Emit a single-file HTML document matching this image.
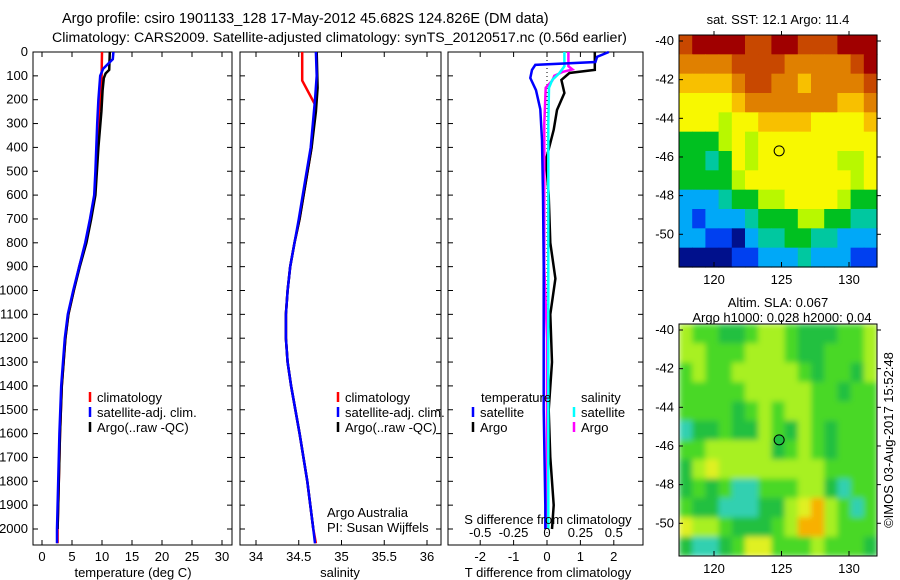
<!DOCTYPE html>
<html><head><meta charset="utf-8">
<style>
html,body{margin:0;padding:0;background:#fff;}
svg{display:block;font-family:"Liberation Sans",sans-serif;}
</style></head>
<body>
<svg id="chart" width="900" height="580" viewBox="0 0 900 580" xmlns="http://www.w3.org/2000/svg">
<defs>
<filter id="blur" x="0" y="0" width="1" height="1"><feGaussianBlur stdDeviation="3" edgeMode="duplicate"/></filter>
<clipPath id="clipSla"><rect x="679" y="324" width="198" height="232"/></clipPath>
</defs>
<text x="62" y="23" font-size="14.5">Argo profile: csiro 1901133_128 17-May-2012 45.682S 124.826E (DM data)</text>
<text x="52" y="42" font-size="14.2">Climatology: CARS2009. Satellite-adjusted climatology: synTS_20120517.nc (0.56d earlier)</text>
<g id="plots"></g>
</svg>
<script>
// ---------- DATA ----------
const depthTicks = [0,100,200,300,400,500,600,700,800,900,1000,1100,1200,1300,1400,1500,1600,1700,1800,1900,2000];
const tempTicks = [0,5,10,15,20,25,30];
const salTicks = [34,34.5,35,35.5,36];
const tdiffTicks = [-2,-1,0,1,2];
const sdiffTicks = [-0.5,-0.25,0,0.25,0.5];

const tClimDepth = [0,150,300,500,600,700,800,900,1000,1100,1200,1400,1600,1800,2000,2060];
const tClimVal   = [10.0,9.9,9.4,9.1,8.8,8.1,7.3,6.2,5.3,4.4,3.9,3.3,3.0,2.8,2.6,2.6];
const tSatDepth = [0,30,70,100,200,300,500,600,700,800,900,1000,1100,1200,1400,1600,1800,2000,2060];
const tSatVal   = [11.9,11.8,10.2,9.7,9.4,9.2,8.9,8.7,8.0,7.2,6.2,5.2,4.3,3.8,3.2,2.9,2.7,2.5,2.5];
const tArgoDepth = [0,75,90,110,160,250,400,600,700,800,900,1000,1100,1200,1400,1600,1800,2000];
const tArgoVal   = [11.3,11.2,10.6,10.3,10.1,9.9,9.4,8.9,8.2,7.4,6.3,5.3,4.4,3.9,3.3,3.0,2.8,2.6];

const sClimDepth = [0,120,220,400,550,700,800,900,1000,1100,1200,1300,1400,1600,1800,2000,2060];
const sClimVal   = [34.54,34.54,34.69,34.65,34.58,34.51,34.45,34.40,34.37,34.35,34.35,34.37,34.41,34.51,34.60,34.67,34.70];
const sSatDepth = [0,100,200,400,550,700,800,900,1000,1100,1200,1300,1400,1600,1800,2000,2060];
const sSatVal   = [34.70,34.71,34.69,34.64,34.57,34.50,34.45,34.40,34.37,34.35,34.35,34.37,34.41,34.51,34.60,34.67,34.69];
const sArgoDepth = [0,150,250,400,550,700,800,900,1000,1100,1200,1300,1400,1600,1800,2000];
const sArgoVal   = [34.71,34.72,34.70,34.65,34.58,34.51,34.45,34.40,34.37,34.35,34.35,34.37,34.41,34.51,34.60,34.67];

const dTSatDepth = [0,20,42,54,75,109,160,240,370,600,900,1200,1500,1900,2000];
const dTSatVal   = [1.85,1.5,1.45,-0.35,-0.45,-0.5,-0.33,-0.2,-0.15,-0.12,-0.1,-0.1,-0.1,-0.05,-0.05];
const dTArgoDepth = [0,75,88,117,172,243,326,452,600,800,950,1100,1300,1500,1700,1900,2000];
const dTArgoVal   = [1.43,1.43,0.67,0.43,0.52,0.3,0.2,-0.03,0.05,0.1,0.25,0.1,0.15,0.05,0.1,0.2,0.15];
const dSSatDepth = [0,60,90,117,150,300,600,1000,1500,2000];
const dSSatVal   = [0.13,0.13,0.09,0.04,0.015,0.01,0.01,0.01,0.01,0.01];
const dSArgoDepth = [0,60,73,83,100,120,150,300,600,900,1200,1600,2000];
const dSArgoVal   = [0.16,0.16,0.19,0.12,0.055,0.04,-0.01,-0.02,-0.02,-0.02,0.0,0.0,0.0];

const lonTicks = [120,125,130];
const latTicks = [-40,-42,-44,-46,-48,-50];
const argoLon = 124.826, argoLat = -45.682;
const sstGrid = [
"9aaaa99aa999aaa","88889999888889a","777789988788889","666678888888778",
"666566777766667","444565666666666","443465666666556","444456666666656",
"222344556666544","212223444554433","221102334433222","000011222322211"];
const slaGrid = [
"yGGggGyyGgggGGy","yyGGGyyyGggGGGy","GyGGyyyyyGgGGgy","GGGGGyyyyyGGgGG",
"GGGGgGyGyyGGGGG","cggGggyGgyGgGGG","GGyyyyygGyGgGGG","gyYyyyyyyyyGGGG",
"gGgGccGGGyygcGG","GggcccggyYoyGcG","YyyGgggGyooyGGG","gccgGYYGGGyGGGg"];
const sstColors = ["#00108c","#0040f0","#00a8f8","#00c8a0","#00c020","#b8f800","#f8f800","#f8c000","#e08000","#c84800","#a00000"];
const slaColors = {c:"#30d0b0",g:"#20c040",G:"#48d828",y:"#a8f020",Y:"#e0f020",o:"#f8b000"};

// ---------- DRAW ----------
const NS="http://www.w3.org/2000/svg";
const root=document.getElementById('plots');
function el(tag,attrs,parent){const e=document.createElementNS(NS,tag);for(const k in attrs)e.setAttribute(k,attrs[k]);(parent||root).appendChild(e);return e;}
const TOP=52,BOT=545;
const yD=d=>TOP+d*0.2385;

function frame(x0,x1,name){
  const r=el('rect',{x:x0,y:TOP,width:x1-x0,height:BOT-TOP,fill:'none',stroke:'#000','stroke-width':1});
  
  
  depthTicks.forEach(d=>{
    el('line',{x1:x0,x2:x0+5,y1:yD(d),y2:yD(d),stroke:'#000'});
    el('line',{x1:x1-5,x2:x1,y1:yD(d),y2:yD(d),stroke:'#000'});
  });
}
function line(xs,ds,xf,color,name,w){
  const pts=xs.map((v,i)=>xf(v).toFixed(1)+','+yD(ds[i]).toFixed(1)).join(' ');
  const p=el('polyline',{points:pts,fill:'none',stroke:color,'stroke-width':w||2.5});
  
  
}
function txt(x,y,s,anchor,size,name){
  const t=el('text',{x:x,y:y,'font-size':size||13,'text-anchor':anchor||'start'});
  t.textContent=s;
  
  
  return t;
}
function xticks(x0,x1,ticks,xf,labels,name){
  ticks.forEach((v,i)=>{
    const x=xf(v);
    el('line',{x1:x,x2:x,y1:BOT,y2:BOT-5,stroke:'#000'});
    el('line',{x1:x,x2:x,y1:TOP,y2:TOP+5,stroke:'#000'});
    txt(x,BOT+16,labels?labels[i]:String(v),'middle',13,name);
  });
}
function legendEntry(x,y,color,label,name){
  const l=el('line',{x1:x,x2:x,y1:y-10,y2:y,stroke:color,'stroke-width':2.5});
  
  
  txt(x+7,y,label,'start',13,name);
}

depthTicks.forEach(d=>txt(28,yD(d)+4,String(d),'end',13,'y-tick-label'));

// Panel 1
const xT=v=>42+v*6;
frame(33,232,'temperature-panel');
xticks(33,232,tempTicks,xT,null,'temperature-tick-label');
line(tClimVal,tClimDepth,xT,'#ff0000','temperature-climatology');
line(tArgoVal,tArgoDepth,xT,'#000000','temperature-argo');
line(tSatVal,tSatDepth,xT,'#0000ff','temperature-satellite');
txt(133,577,'temperature (deg C)','middle',13,'temperature-x-axis-title');
legendEntry(90,402,'#ff0000','climatology','legend-climatology');
legendEntry(90,417,'#0000ff','satellite-adj. clim.','legend-satellite');
legendEntry(90,432,'#000000','Argo(..raw -QC)','legend-argo');

// Panel 2
const xS=v=>256+(v-34)*85.5;
frame(240,441,'salinity-panel');
xticks(240,441,salTicks,xS,['34','34.5','35','35.5','36'],'salinity-tick-label');
line(sClimVal,sClimDepth,xS,'#ff0000','salinity-climatology');
line(sArgoVal,sArgoDepth,xS,'#000000','salinity-argo');
line(sSatVal,sSatDepth,xS,'#0000ff','salinity-satellite');
txt(340,577,'salinity','middle',13,'salinity-x-axis-title');
legendEntry(338,402,'#ff0000','climatology','legend-climatology');
legendEntry(338,417,'#0000ff','satellite-adj. clim.','legend-satellite');
legendEntry(338,432,'#000000','Argo(..raw -QC)','legend-argo');
txt(327,517,'Argo Australia','start',13,'credit-argo-australia');
txt(327,532,'PI: Susan Wijffels','start',13,'credit-pi');

// Panel 3
const xDT=v=>547+v*33.4;
const xDS=v=>547+v*133.6;
frame(448,643,'difference-panel');
xticks(448,643,tdiffTicks,xDT,null,'tdiff-tick-label');
el('line',{x1:547,x2:547,y1:TOP+8,y2:BOT,stroke:'#000','stroke-dasharray':'1,3'});
line(dTArgoVal,dTArgoDepth,xDT,'#000000','tdiff-argo');
line(dSArgoVal,dSArgoDepth,xDS,'#ff00ff','sdiff-argo');
line(dSSatVal,dSSatDepth,xDS,'#00ffff','sdiff-satellite');
line(dTSatVal,dTSatDepth,xDT,'#0000ff','tdiff-satellite');
sdiffTicks.forEach(v=>txt(xDS(v),537,String(v),'middle',13,'sdiff-tick-label'));
txt(548,524,'S difference from climatology','middle',13,'sdiff-axis-title');
txt(548,577,'T difference from climatology','middle',13,'tdiff-x-axis-title');
txt(481,402,'temperature','start',13,'legend-temperature-header');
txt(581,402,'salinity','start',13,'legend-salinity-header');
legendEntry(473,417,'#0000ff','satellite','legend-tdiff-satellite');
legendEntry(473,432,'#000000','Argo','legend-tdiff-argo');
legendEntry(574,417,'#00ffff','satellite','legend-sdiff-satellite');
legendEntry(574,432,'#ff00ff','Argo','legend-sdiff-argo');

// Maps
function drawMap(y0,grid,colorFn,name,dotFill,blur){
  const X0=679,X1=877,Y1=y0+232;
  const lonX=v=>714+(v-120)*13.5;
  const latY=v=>y0+6+(-40-v)*19.33;
  const outer=el('g',{});
  
  
  const g=el('g',blur?{filter:'url(#blur)'}:{},el('g',blur?{'clip-path':'url(#clipSla)'}:{},outer));
  const rows=grid.length,cols=grid[0].length;
  const cw=(X1-X0)/cols,ch=(Y1-y0)/rows;
  grid.forEach((row,r)=>{for(let c=0;c<cols;c++){
    el('rect',{x:(X0+c*cw).toFixed(2),y:(y0+r*ch).toFixed(2),width:(cw+0.6).toFixed(2),height:(ch+0.6).toFixed(2),fill:colorFn(row[c])},g);
  }});
  el('rect',{x:X0,y:y0,width:X1-X0,height:Y1-y0,fill:'none',stroke:'#000'});
  lonTicks.forEach(v=>{
    const x=lonX(v);
    el('line',{x1:x,x2:x,y1:Y1,y2:Y1-5,stroke:'#000'});
    el('line',{x1:x,x2:x,y1:y0,y2:y0-4,stroke:'#000'});
    txt(x,Y1+17,String(v),'middle',13,'map-lon-tick-label');
  });
  latTicks.forEach(v=>{
    const y=latY(v);
    el('line',{x1:X0,x2:X0+4,y1:y,y2:y,stroke:'#000'});
    el('line',{x1:X1,x2:X1+4,y1:y,y2:y,stroke:'#000'});
    txt(674,y+4,String(v),'end',13,'map-lat-tick-label');
  });
  const c=el('circle',{cx:lonX(argoLon),cy:latY(argoLat),r:5,fill:dotFill,stroke:'#000','stroke-width':1});
  
  
}
drawMap(35,sstGrid,ch=>sstColors[parseInt(ch,16)],'sst-map','none',false);
drawMap(324,slaGrid,ch=>slaColors[ch],'sla-map','#20c040',true);
txt(778,24,'sat. SST: 12.1  Argo: 11.4','middle',13,'sst-map-title');
txt(778,307,'Altim. SLA: 0.067','middle',13,'sla-map-title');
txt(782,322,'Argo h1000: 0.028 h2000: 0.04','middle',13,'sla-map-subtitle');
const st=txt(0,0,'©IMOS 03-Aug-2017 15:52:48','middle',13,'timestamp');
st.setAttribute('transform','translate(893,440) rotate(-90)');
</script>
</body></html>
